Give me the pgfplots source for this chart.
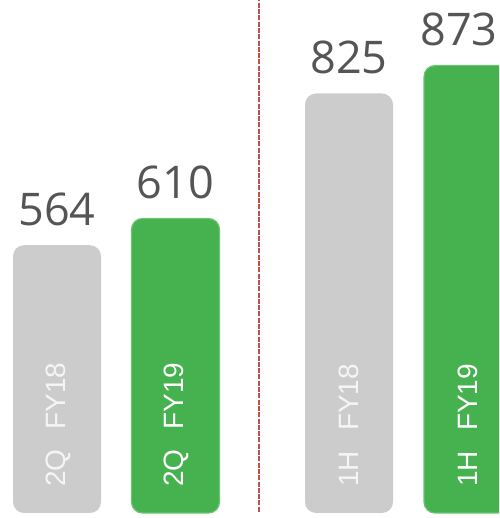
\documentclass[border=0pt]{standalone}
\usepackage{pgfplots}
\pgfplotsset{compat=1.18}
\usepackage{fontspec}
\setmainfont{Liberation Sans}
\newfontfamily\valfont{Open Sans}
\definecolor{bargray}{HTML}{CCCCCC}
\definecolor{bargreen}{HTML}{45B14F}
\definecolor{greenedge}{HTML}{6CC374}
\definecolor{valtext}{HTML}{555555}
\definecolor{divred}{HTML}{C0504D}
\begin{document}
\begin{tikzpicture}
\begin{axis}[
  width=499pt, height=518pt, scale only axis,
  xmin=0, xmax=499, ymin=-8.6, ymax=882.3,
  hide axis,
  y filter/.expression={y-103.5},
  ybar, bar width=88, bar shift=0pt,
  nodes near coords, point meta=rawy,
  /pgf/number format/assume math mode=true,
  nodes near coords style={font=\valfont\fontsize{45}{50}\selectfont, text=valtext, inner sep=0pt, anchor=base, yshift=20pt},
]
\addplot[fill=bargray, draw=none, rounded corners=11pt] coordinates {(57,564) (349,825)};
\addplot[fill=bargreen, draw=greenedge, line width=1.2pt, rounded corners=11pt] coordinates {(175.5,610)};
\addplot[fill=bargreen, draw=greenedge, line width=1.2pt, rounded corners=11pt, nodes near coords style={xshift=-9pt}] coordinates {(468,873)};
\draw[divred, line width=1.6pt, dash pattern=on 5pt off 1.3pt] (rel axis cs:0.519,0.012) -- (rel axis cs:0.519,1);
\node[rotate=90, anchor=west, inner sep=0pt, text={rgb,255:red,245;green,245;blue,245}, font=\fontsize{28}{30}\selectfont] at (rel axis cs:0.1175,0.06) {2Q\hspace{20pt}FY18};
\node[rotate=90, anchor=west, inner sep=0pt, text=white, font=\fontsize{28}{30}\selectfont] at (rel axis cs:0.354,0.06) {2Q\hspace{20pt}FY19};
\node[rotate=90, anchor=west, inner sep=0pt, text={rgb,255:red,245;green,245;blue,245}, font=\fontsize{28}{30}\selectfont] at (rel axis cs:0.7,0.06) {1H\hspace{20pt}FY18};
\node[rotate=90, anchor=west, inner sep=0pt, text=white, font=\fontsize{28}{30}\selectfont] at (rel axis cs:0.938,0.06) {1H\hspace{20pt}FY19};
\end{axis}
\pgfresetboundingbox
\path[use as bounding box] (0,0) rectangle (499pt,518pt);
\end{tikzpicture}
\end{document}
